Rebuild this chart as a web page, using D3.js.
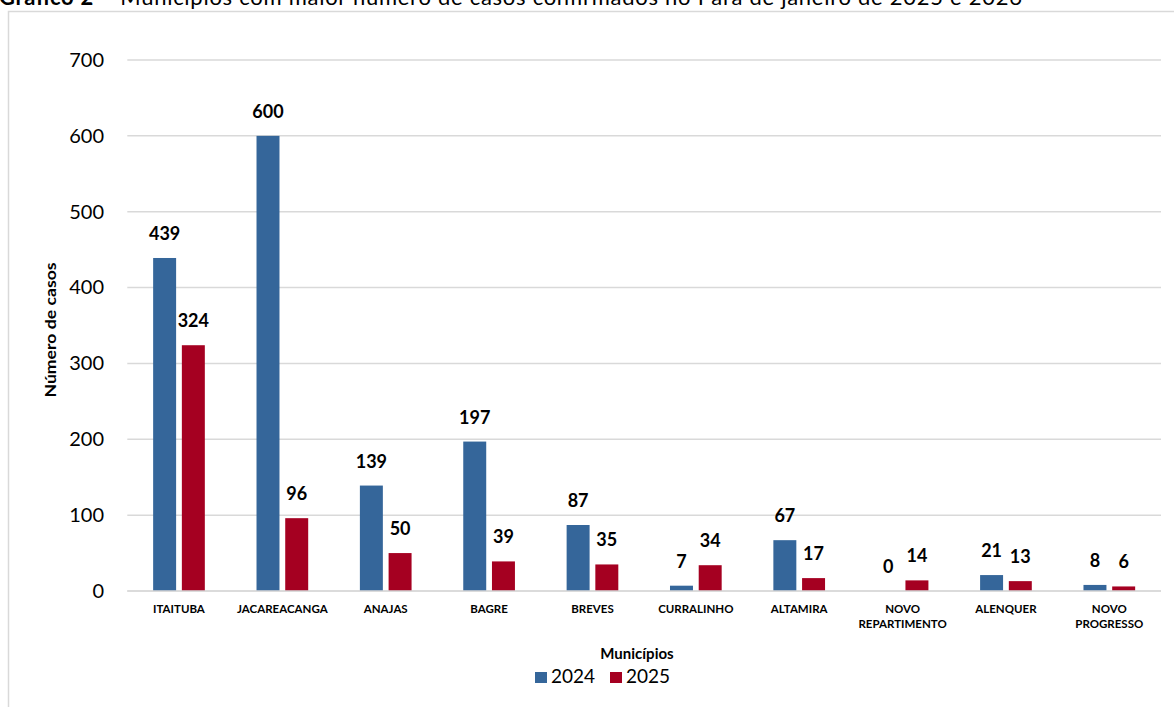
<!DOCTYPE html>
<html><head><meta charset="utf-8">
<script src="https://cdn.jsdelivr.net/npm/d3@7"></script>
<style>
html,body{margin:0;padding:0;background:#fff;}
svg{display:block;font-family:Lato, "Open Sans", sans-serif;}
</style></head>
<body>
<svg id="chart" width="1174" height="707"></svg>
<script>
const categories = [["ITAITUBA"],["JACAREACANGA"],["ANAJAS"],["BAGRE"],["BREVES"],["CURRALINHO"],["ALTAMIRA"],["NOVO","REPARTIMENTO"],["ALENQUER"],["NOVO","PROGRESSO"]];
const years = ["2024","2025"];
const values2024 = [439,600,139,197,87,7,67,0,21,8];
const values2025 = [324,96,50,39,35,34,17,14,13,6];
const yTicks = [0,100,200,300,400,500,600,700];
const colors = {"2024":"#35669A","2025":"#A50021"};

const svg = d3.select("#chart");
const catKeys = categories.map(c => c.join(" "));
const data = catKeys.map((k,i)=>({key:k, lines:categories[i], vals:[{y:"2024",v:values2024[i]},{y:"2025",v:values2025[i]}]}));

// frame
svg.append("rect").attr("x",8.5).attr("y",11.5).attr("width",1200).attr("height",800)
  .attr("fill","none").attr("stroke","#d9d9d9").attr("stroke-width",1.5);

// title
const title = svg.append("text").attr("x",-1).attr("y",5).attr("font-size",22).attr("fill","#000")
  .attr("textLength",1023).attr("lengthAdjust","spacing");
title.append("tspan").attr("font-weight","bold").text("Gráfico 2");
title.append("tspan").text(" – Municípios com maior número de casos confirmados no Pará de janeiro de 2025 e 2026");

const x0 = d3.scaleBand().domain(catKeys).range([127.3,1161]).paddingInner(0.5).paddingOuter(0.25);
const x1 = d3.scaleBand().domain(years).range([0,x0.bandwidth()]).paddingInner(0.2);
const y = d3.scaleLinear().domain([0,700]).range([591,60]);

// gridlines
svg.append("g").selectAll("line").data(yTicks).join("line")
  .attr("x1",127.3).attr("x2",1161).attr("y1",d=>y(d)).attr("y2",d=>y(d))
  .attr("stroke","#d9d9d9").attr("stroke-width",1.5);

// y axis labels
const yAxis = d3.axisLeft(y).tickValues(yTicks).tickSize(0).tickPadding(0);
const gy = svg.append("g").attr("transform","translate(104,0)").call(yAxis);
gy.select(".domain").remove();
gy.selectAll("text").attr("font-size",20).attr("fill","#000").attr("font-family","Lato, sans-serif");

// bars
const groups = svg.append("g").selectAll("g").data(data).join("g")
  .attr("transform",d=>`translate(${x0(d.key)},0)`);
groups.selectAll("rect").data(d=>d.vals).join("rect")
  .attr("x",d=>x1(d.y)).attr("width",x1.bandwidth())
  .attr("y",d=>y(d.v)).attr("height",d=>y(0)-y(d.v))
  .attr("fill",d=>colors[d.y]);
groups.selectAll("text.lbl").data(d=>d.vals).join("text").attr("class","lbl")
  .attr("x",d=>x1(d.y)+x1.bandwidth()/2).attr("y",d=>y(d.v)-18)
  .attr("text-anchor","middle").attr("font-size",18).attr("font-weight","bold").attr("fill","#000")
  .text(d=>d.v);

// baseline
svg.append("line").attr("x1",127.3).attr("x2",1161).attr("y1",y(0)).attr("y2",y(0))
  .attr("stroke","#d9d9d9").attr("stroke-width",1.5);

// category labels
const cl = svg.append("g").selectAll("text").data(data).join("text")
  .attr("x",d=>x0(d.key)+x0.bandwidth()/2).attr("y",613)
  .attr("text-anchor","middle").attr("font-size",11.5).attr("font-weight","bold").attr("fill","#000");
cl.selectAll("tspan").data(d=>d.lines).join("tspan")
  .attr("x",function(){return d3.select(this.parentNode).attr("x");})
  .attr("dy",(d,i)=>i===0?0:15).text(d=>d);

// axis titles
svg.append("text").attr("transform","translate(56,330) rotate(-90)").attr("text-anchor","middle")
  .attr("font-size",16).attr("font-weight","bold").attr("fill","#000")
  .attr("textLength",135).attr("lengthAdjust","spacingAndGlyphs").text("Número de casos");
svg.append("text").attr("x",637).attr("y",659).attr("text-anchor","middle")
  .attr("font-size",15).attr("font-weight","bold").attr("fill","#000").text("Municípios");

// legend
const legendX = [535,610];
const lg = svg.append("g").selectAll("g").data(years).join("g")
  .attr("transform",(d,i)=>`translate(${legendX[i]},672)`);
lg.append("rect").attr("width",12).attr("height",11).attr("fill",d=>colors[d]);
lg.append("text").attr("x",16).attr("y",11).attr("font-size",19).attr("fill","#000").text(d=>d);
</script>
</body></html>
